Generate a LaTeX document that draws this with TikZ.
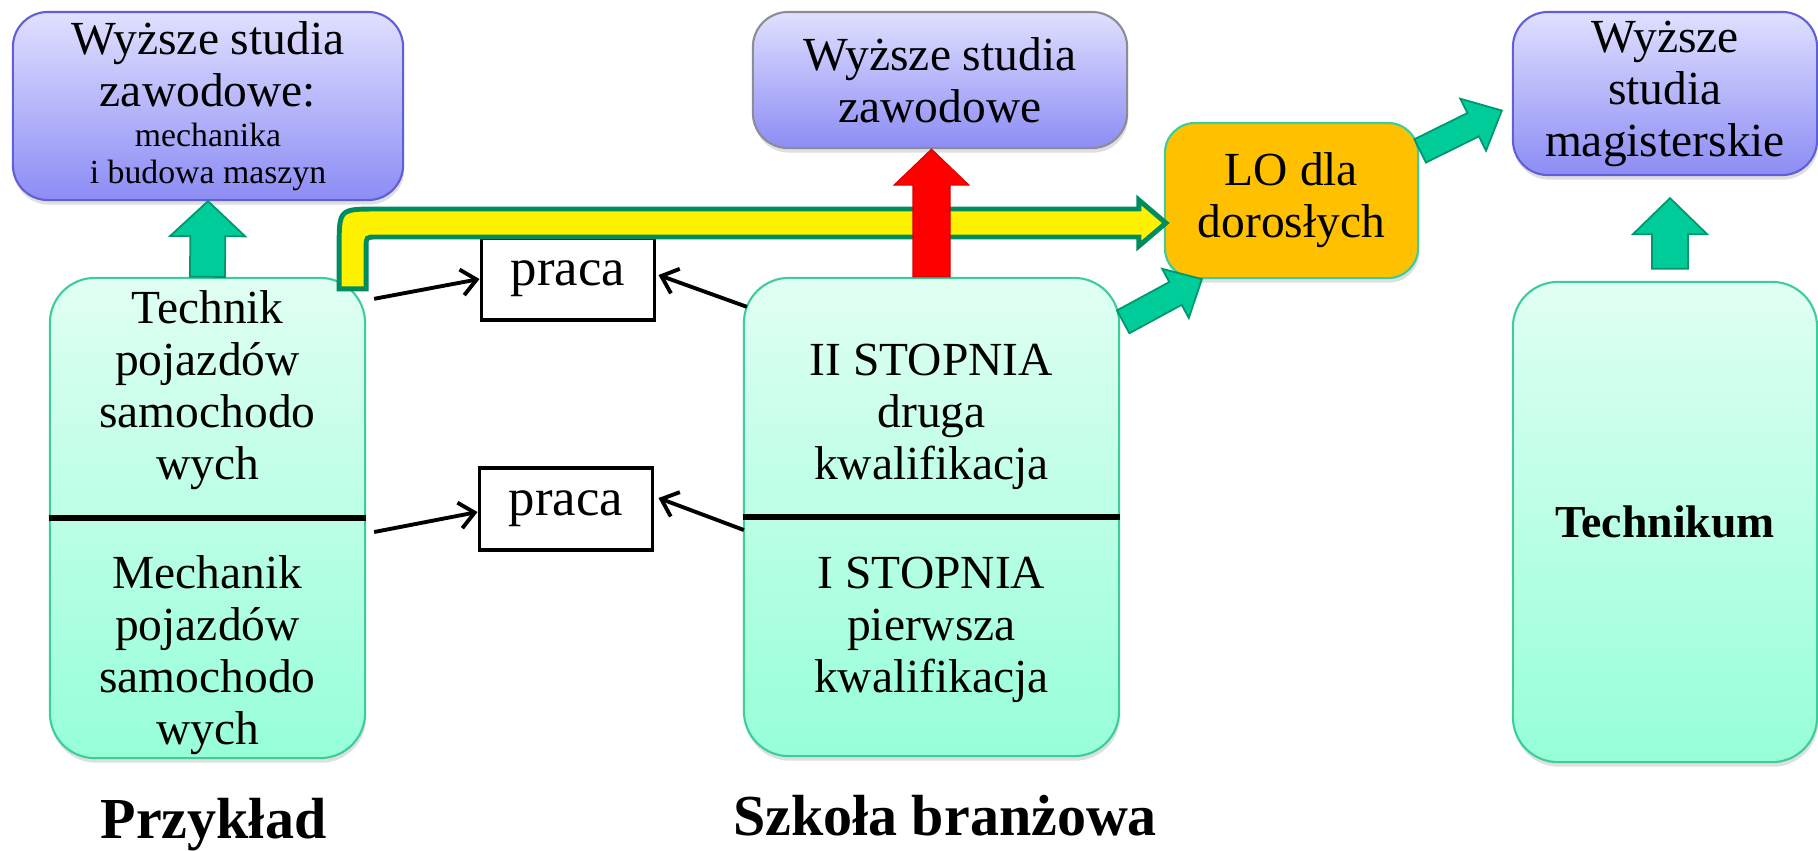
\documentclass[tikz,border=0pt]{standalone}
\usepackage{fontspec}
\setmainfont{Liberation Serif}
\usetikzlibrary{calc,shadows,arrows.meta}

\definecolor{lilatop}{RGB}{224,224,255}
\definecolor{lilabot}{RGB}{140,140,245}
\definecolor{lilaline}{RGB}{95,95,215}
\definecolor{greyline}{RGB}{140,140,150}
\definecolor{mintop}{RGB}{224,255,243}
\definecolor{minbot}{RGB}{150,255,215}
\definecolor{minline}{RGB}{60,205,155}
\definecolor{arrgreen}{RGB}{0,204,153}
\definecolor{arrline}{RGB}{0,150,110}
\definecolor{lofill}{RGB}{255,192,0}
\definecolor{bandline}{RGB}{0,140,95}

\tikzset{
  txt/.style={align=center, font=\fontsize{13.5}{14.8}\selectfont},
  shade/.style={drop shadow={opacity=0.25, shadow xshift=0.3pt, shadow yshift=-1.3pt}},
  lilabox/.style={txt, shade, draw=lilaline, line width=0.6pt, rounded corners=0.35cm,
    top color=lilatop, bottom color=lilabot, inner sep=0pt},
  minbox/.style={txt, shade, draw=minline, line width=0.6pt, rounded corners=0.45cm,
    top color=mintop, bottom color=minbot, inner sep=0pt},
  lobox/.style={txt, shade, draw=minline, line width=0.6pt, rounded corners=0.3cm,
    fill=lofill, inner sep=0pt},
  workbox/.style={draw, line width=1.1pt, fill=white, font=\fontsize{15}{16}\selectfont,
    minimum width=1.73cm, minimum height=0.82cm, inner sep=0pt},
  workarrow/.style={line width=1.1pt, -{Straight Barb[length=1.5mm,width=2.6mm]}},
  divider/.style={line width=1.9pt},
  greenarrow/.style={fill=arrgreen, draw=arrline, line width=0.5pt},
  redarrow/.style={fill=red, draw=red!85!black, line width=0.3pt},
  bandarrow/.style={fill=yellow, draw=bandline, line width=1.4pt},
  title/.style={font=\bfseries\fontsize{16.5}{18}\selectfont, anchor=base}
}

% block arrow: style, from, to, half shaft, half head, head length
\newcommand\blockarrow[6]{%
  \coordinate (bh) at ($(#3)!#6!(#2)$);
  \filldraw[#1] ($(#2)!#4!90:(#3)$) -- ($(bh)!#4!90:(#3)$) -- ($(bh)!#5!90:(#3)$) -- (#3)
    -- ($(bh)!#5!-90:(#3)$) -- ($(bh)!#4!-90:(#3)$) -- ($(#2)!#4!-90:(#3)$) -- cycle;
}

\begin{document}
\begin{tikzpicture}[x=0.01cm, y=-0.01cm]
\useasboundingbox (0,0) rectangle (1818,850);

% upper boxes
\node[lilabox, minimum width=3.9cm, minimum height=1.88cm] (zaw1) at (208,106)
  {Wyższe studia\\zawodowe:\\[-3.2pt]{\fontsize{9.6}{11}\selectfont mechanika}\\[-4.4pt]{\fontsize{9.6}{11}\selectfont i budowa maszyn}};
\node[lilabox, draw=greyline, minimum width=3.74cm, minimum height=1.36cm] (zaw2) at (940,80)
  {Wyższe studia\\zawodowe};
\node[lilabox, minimum width=3.04cm, minimum height=1.63cm] (mag) at (1665,93.5)
  {Wyższe\\studia\\magisterskie};
\node[lobox, minimum width=2.53cm, minimum height=1.55cm] (lo) at (1291.5,200.5)
  {LO dla\\dorosłych};

% lower boxes
\node[minbox, minimum width=3.15cm, minimum height=4.8cm] (tech) at (207.5,518) {};
\node[minbox, minimum width=3.75cm, minimum height=4.78cm] (mid) at (931.5,517) {};
\node[minbox, minimum width=3.04cm, minimum height=4.8cm,
  font=\bfseries\fontsize{13}{15}\selectfont] (tikum) at (1665,522) {Technikum};

\draw[divider] (tech.west) -- (tech.east);
\draw[divider] (mid.west) -- (mid.east);

\node[txt] (techup) at ($(tech.center)+(0,-128)$) {Technik\\pojazdów\\samochodo\\wych};
\node[txt] (techdown) at ($(tech.center)+(0,137)$) {Mechanik\\pojazdów\\samochodo\\wych};
\node[txt] (midup) at ($(mid.center)+(0,-100)$) {II STOPNIA\\druga\\kwalifikacja};
\node[txt] (middown) at ($(mid.center)+(0,113)$) {I STOPNIA\\pierwsza\\kwalifikacja};

% praca
\node[workbox] (praca1) at (568,279) {praca};
\node[workbox] (praca2) at (566,509) {praca};
\draw[workarrow] ($(tech.north east)+(8,22)$) -- (praca1.west);
\draw[workarrow] ($(mid.north west)+(4,30)$) -- ($(praca1.east)+(2,-4)$);
\draw[workarrow] ($(tech.east)+(8,14)$) -- ($(praca2.west)+(0,3)$);
\draw[workarrow] ($(mid.west)+(1,13)$) -- ($(praca2.east)+(4,-11)$);

% yellow band to LO
\coordinate (yb) at ($(tech.north east)+(-13.5,12)$);
\coordinate (yt) at ($(lo.west)+(-25,22.5)$);
\filldraw[bandarrow] ($(yb)+(-13.5,0)$) -- ($(yb |- yt)+(-13.5,24)$)
  .. controls ($(yb |- yt)+(-13.5,-14)$) .. ($(yb |- yt)+(24.5,-14)$)
  -- ($(yt)+(0,-14)$) -- ($(yt)+(0,-23)$) -- ($(lo.west)+(2,22.5)$) -- ($(yt)+(0,23)$)
  -- ($(yt)+(0,14)$) -- ($(yb |- yt)+(23.5,14)$)
  .. controls ($(yb |- yt)+(13.5,14)$) .. ($(yb |- yt)+(13.5,24)$)
  -- ($(yb)+(13.5,0)$) -- cycle;

% block arrows
\coordinate (redtop) at (mid.north |- zaw2.south);
\blockarrow{redarrow}{mid.north}{redtop}{0.185cm}{0.375cm}{0.36cm}
\blockarrow{greenarrow}{tech.north}{zaw1.south}{0.175cm}{0.375cm}{0.35cm}
\coordinate (ta) at ($(tikum.north)+(5,-12)$);
\coordinate (tb) at ($(mag.south)+(5,22)$);
\blockarrow{greenarrow}{ta}{tb}{0.18cm}{0.37cm}{0.36cm}
\coordinate (la) at ($(mid.north east)+(3,45)$);
\coordinate (lb) at ($(lo.south west)+(38,0)$);
\blockarrow{greenarrow}{la}{lb}{0.13cm}{0.28cm}{0.3cm}
\coordinate (ma) at ($(lo.north east)+(1,29)$);
\coordinate (mb) at ($(mag.west)+(-10,17)$);
\blockarrow{greenarrow}{ma}{mb}{0.13cm}{0.29cm}{0.32cm}

% labels
\node[title] (przyklad) at (213.5,838) {Przykład};
\node[title] (branzowa) at (945,835) {Szkoła branżowa};
\end{tikzpicture}
\end{document}
